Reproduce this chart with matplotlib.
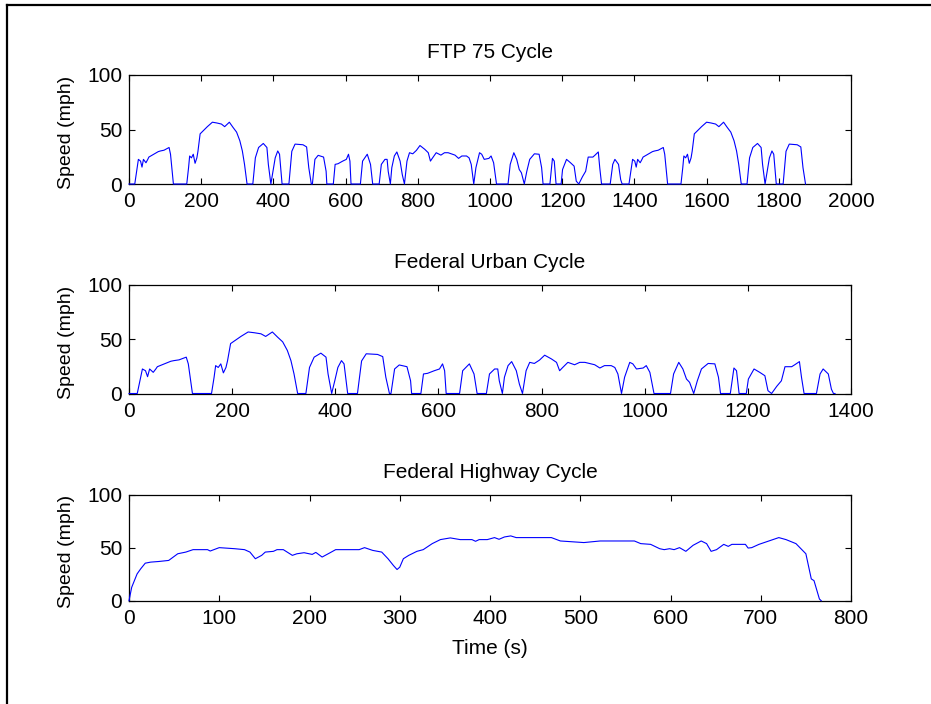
import matplotlib
matplotlib.use("Agg")
import matplotlib.pyplot as plt
from matplotlib.lines import Line2D

plt.rcParams['font.family'] = ['Liberation Sans', 'DejaVu Sans']
plt.rcParams['font.size'] = 15

# ---------------- Data ----------------
# Federal Urban Driving Schedule (UDDS / FUDS), time (s) and speed (mph)
urban_time = [0, 16, 26, 32, 36, 40, 47, 52, 55, 81, 87, 97, 111, 115, 123,
              160, 165, 168, 173, 178, 183, 188, 191, 197, 204, 217, 231, 243,
              256, 265, 278, 288, 298, 307, 314, 320, 327,
              343, 350, 359, 372, 382, 386, 393, 399, 405, 412, 417, 424,
              443, 451, 460, 482, 492, 498, 505,
              508, 515, 524, 539, 546, 548,
              566, 571, 579, 592, 602, 608, 612, 615,
              641, 647, 660, 669, 675,
              693, 699, 709, 715, 718, 724, 728, 735, 742, 751, 757, 763,
              770, 777, 786, 796, 806, 819, 829, 835, 840, 851, 864, 874, 884,
              893, 903, 913, 922, 935, 942, 948, 955,
              961, 971, 977, 984, 997, 1003, 1010, 1018,
              1050, 1056, 1066, 1074, 1081, 1087, 1095,
              1102, 1110, 1123, 1136, 1143, 1147,
              1166, 1173, 1178, 1183,
              1197, 1201, 1212, 1223, 1233, 1239, 1246,
              1256, 1265, 1272, 1285, 1291, 1300, 1304, 1309,
              1333, 1340, 1346, 1356, 1362, 1366, 1369]
urban_speed = [0, 0, 22.6, 21, 15.5, 22.6, 19.5, 22.6, 24.7, 29.7, 30.3, 31, 33.5, 27.3, 0,
               0, 15, 25.7, 24, 27.3, 19, 24, 30, 46, 48.3, 52.6, 56.7, 56,
               55, 52.6, 56.7, 52, 47.6, 39.7, 30.3, 18, 0,
               0, 24, 33.5, 37.2, 33.5, 18, 0, 11.7, 24, 30.3, 27.3, 0,
               0, 30, 36.6, 36, 34, 15, 0,
               0, 22.6, 26.3, 24.7, 11.7, 0,
               0, 18, 18.6, 21, 22.6, 27.3, 21, 0,
               0, 21, 27.3, 18, 0,
               0, 18, 22.6, 22.6, 11.7, 0, 15, 25.7, 29.4, 21, 8.6, 0,
               21, 28.7, 27.7, 30.8, 35.3, 31.9, 28.7, 21, 23.5, 28.7, 26.5, 28.7, 28.7,
               27.7, 26.5, 23.5, 25.7, 25.7, 24, 18, 0,
               15, 28.7, 27.3, 22.6, 23.5, 25.7, 19.5, 0,
               0, 18, 28.7, 22.6, 13.3, 10.3, 0,
               11.7, 22.6, 27.7, 27.3, 15, 0,
               0, 23.5, 21, 0,
               0, 13.3, 22.6, 19.5, 16.4, 2.6, 0,
               6.6, 11.7, 24.7, 24.7, 26.5, 29.4, 15, 0,
               0, 18, 22.6, 18, 4, 0, 0]

# FTP-75 bag 3 (hot start, repeat of the first 505 s), time (s) and speed (mph)
bag3_time = [1385, 1395, 1401, 1405, 1409, 1416, 1421, 1424, 1450, 1456, 1466, 1480, 1484, 1492,
             1529, 1534, 1537, 1542, 1547, 1552, 1557, 1560, 1566, 1573, 1586, 1600, 1612,
             1625, 1634, 1647, 1657, 1667, 1676, 1683, 1689, 1696,
             1712, 1719, 1728, 1741, 1751, 1755, 1762, 1768, 1774, 1781, 1786, 1793,
             1812, 1820, 1829, 1851, 1861, 1867, 1874]
bag3_speed = [0, 22.6, 21, 15.5, 22.6, 19.5, 22.6, 24.7, 29.7, 30.3, 31, 33.5, 27.3, 0,
              0, 15, 25.7, 24, 27.3, 19, 24, 30, 46, 48.3, 52.6, 56.7, 56,
              55, 52.6, 56.7, 52, 47.6, 39.7, 30.3, 18, 0,
              0, 24, 33.5, 37.2, 33.5, 18, 0, 11.7, 24, 30.3, 27.3, 0,
              0, 30, 36.6, 36, 34, 15, 0]

# Highway Fuel Economy Test (HWFET), time (s) and speed (mph)
hwy_time = [0, 3, 9, 13, 18, 24, 33, 44, 54, 63, 71, 87, 90, 100, 117, 128, 134, 140,
            147, 151, 160, 164, 171, 181, 186, 194, 203, 207, 214, 222, 229, 255, 261,
            270, 280, 287, 293, 297, 300, 304, 310, 319, 326, 336, 345, 356, 367, 380,
            384, 388, 397, 405, 410, 416, 423, 429, 468, 478, 504, 522, 560, 567, 578,
            588, 593, 599, 604, 610, 617, 625, 634, 640, 645, 651, 659, 664, 668, 683,
            686, 690, 698, 709, 720, 728, 739, 750, 756, 759, 765, 767]
hwy_speed = [0, 12.7, 25.4, 30.2, 35.5, 36.5, 37.1, 38.1, 44.4, 46, 48.3, 48.3, 47, 50.2,
             49.2, 48.3, 46, 39.7, 42.9, 46, 46.7, 48.3, 48.3, 42.9, 44.4, 45.4, 43.8, 45.7,
             41.3, 45, 48.3, 48.3, 50.2, 47.6, 46, 39.7, 33.3, 29.5, 31.7, 39.7, 42.9, 46.7,
             48.3, 54, 57.8, 59.4, 57.8, 57.8, 56.2, 57.8, 57.8, 59.7, 58.1, 60.3, 61.3, 59.7,
             59.7, 56.5, 55, 56.5, 56.5, 54, 53.3, 49.2, 48.3, 49.2, 48.3, 50.2, 46.7, 52.4,
             56.5, 54, 46.7, 48.3, 53.3, 51.4, 53.3, 53.3, 49.8, 50.2, 53.3, 56.5, 59.7, 57.8,
             54, 44.4, 20.6, 19, 1.6, 0]

ftp_time = urban_time + bag3_time
ftp_speed = urban_speed + bag3_speed

titles = ["FTP 75 Cycle", "Federal Urban Cycle", "Federal Highway Cycle"]
xmax = [2000, 1400, 800]
xticks = [list(range(0, 2001, 200)), list(range(0, 1401, 200)), list(range(0, 801, 100))]
yticks = [0, 50, 100]
series = [(ftp_time, ftp_speed), (urban_time, urban_speed), (hwy_time, hwy_speed)]

# ---------------- Figure ----------------
W, H = 931, 704
fig = plt.figure(figsize=(W / 100, H / 100), dpi=100)

# axes rectangles in pixels: left, top, right, bottom
rects = [(129, 75, 851, 184), (129, 285, 851, 393.5), (129, 495, 851, 600.7)]

for i, (l, t, r, b) in enumerate(rects):
    ax = fig.add_axes([l / W, 1 - b / H, (r - l) / W, (b - t) / H])
    x, y = series[i]
    ax.plot(x, y, color=(0, 0, 1), lw=0.8, clip_on=False, zorder=3)
    ax.set_xlim(0, xmax[i])
    ax.set_ylim(0, 100)
    ax.set_xticks(xticks[i])
    ax.set_yticks(yticks)
    ax.tick_params(direction='in', top=True, right=True, length=4, width=0.8,
                   labelsize=15, pad=6, colors='black')
    ax.tick_params(axis='y', pad=5)
    for s in ax.spines.values():
        s.set_linewidth(0.9)
        s.set_color('black')
    ax.set_title(titles[i], fontsize=15, pad=12)
    ax.set_ylabel("Speed (mph)", fontsize=14)
    ax.yaxis.set_label_coords(-0.075, 0.47)
    if i == 2:
        ax.set_xlabel("Time (s)", fontsize=15)
        ax.xaxis.set_label_coords(0.5, -0.36)

# outer frame lines (top and left)
fig.add_artist(Line2D([6.5 / W, 1.0], [1 - 5 / H, 1 - 5 / H], transform=fig.transFigure,
                      color='black', lw=1.6))
fig.add_artist(Line2D([6.5 / W, 6.5 / W], [0.0, 1 - 5 / H], transform=fig.transFigure,
                      color='black', lw=1.6))

fig.savefig("out.png", dpi=100, facecolor='white')
